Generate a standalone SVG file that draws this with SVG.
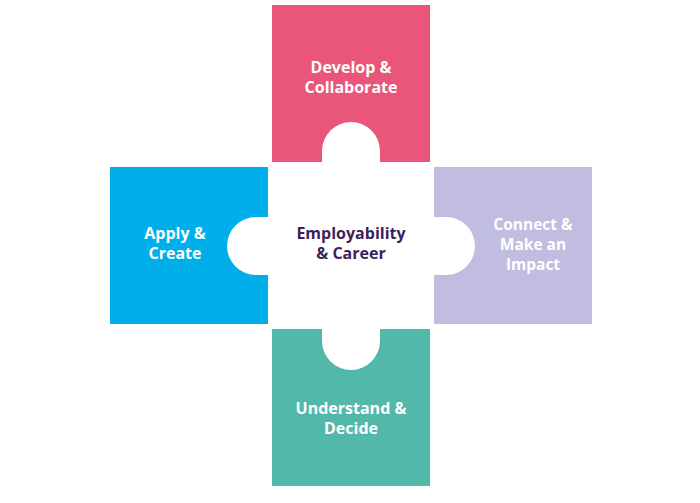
<svg xmlns="http://www.w3.org/2000/svg" width="700" height="503" viewBox="0 0 700 503">
<style>
.t{font-family:"Open Sans","Liberation Sans",sans-serif;font-weight:700;font-size:16px;fill:#fff;text-anchor:middle}
.s{font-size:15.5px}
.c{fill:#3d1f5c}
</style>
<rect width="700" height="503" fill="#fff"/>
<g id="develop">
<path d="M272,5 H430 V162 H380 V151 A29,29 0 0 0 322,151 V162 H272 Z" fill="#ea557a"/>
<text class="t" x="351" y="73">Develop &amp;</text>
<text class="t" x="351" y="93">Collaborate</text>
</g>
<g id="apply">
<path d="M110,167 H268 V217 H256 A29,29 0 0 0 256,275 H268 V324 H110 Z" fill="#00aeea"/>
<text class="t" x="175" y="239">Apply &amp;</text>
<text class="t" x="175" y="259">Create</text>
</g>
<g id="connect">
<path d="M434,167 H592 V324 H434 V275 H446 A29,29 0 0 0 446,217 H434 Z" fill="#c0bde0"/>
<text class="t s" x="533" y="230">Connect &amp;</text>
<text class="t s" x="533" y="250">Make an</text>
<text class="t s" x="533" y="270">Impact</text>
</g>
<g id="understand">
<path d="M272,329 H322 V341 A29,29 0 0 0 380,341 V329 H430 V486 H272 Z" fill="#52b9aa"/>
<text class="t" x="351" y="414">Understand &amp;</text>
<text class="t" x="351" y="434">Decide</text>
</g>
<g id="center">
<text class="t c" x="351" y="239">Employability</text>
<text class="t c" x="351" y="259">&amp; Career</text>
</g>
<g id="connectors"></g>
</svg>
